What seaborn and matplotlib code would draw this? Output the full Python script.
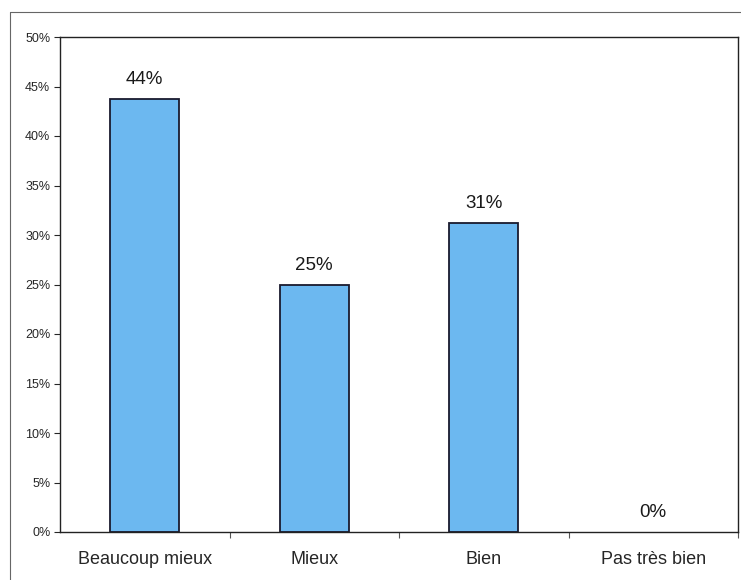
import matplotlib.pyplot as plt
import seaborn as sns
import pandas as pd
from matplotlib.lines import Line2D
from matplotlib.ticker import FuncFormatter, MultipleLocator

# données
categories = ['Beaucoup mieux', 'Mieux', 'Bien', 'Pas très bien']
values = [43.75, 25.0, 31.25, 0.0]
labels = ['44%', '25%', '31%', '0%']

df = pd.DataFrame({'categorie': categories, 'valeur': values})

sns.set_style('white')
plt.rcParams['font.family'] = ['Liberation Sans', 'DejaVu Sans']

fig = plt.figure(figsize=(7.41, 5.80), dpi=100)
ax = fig.add_axes([60 / 741, 1 - 532 / 580, 678 / 741, 495 / 580])

sns.barplot(data=df, x='categorie', y='valeur', color='#6CB8F0',
            edgecolor='#1a1a2e', linewidth=1.3, width=0.41, saturation=1, ax=ax)

# pas de contour pour une barre à 0
for patch, v in zip(ax.patches, values):
    if v == 0:
        patch.set_linewidth(0)

# étiquettes au-dessus des barres
for i, (v, lab) in enumerate(zip(values, labels)):
    ax.text(i, v + 1.1, lab, ha='center', va='bottom', fontsize=13.5, color='#1a1a1a')

ax.set_ylim(0, 50)
ax.set_xlim(-0.5, 3.5)
ax.yaxis.set_major_locator(MultipleLocator(5))
ax.yaxis.set_major_formatter(FuncFormatter(lambda v, p: f'{v:.0f}%'))
ax.set_xlabel('')
ax.set_ylabel('')

# graduations de l'axe X entre les catégories
ax.set_xticks([0, 1, 2, 3])
ax.set_xticklabels(categories, fontsize=13)
ax.set_xticks([0.5, 1.5, 2.5, 3.5], minor=True)
ax.tick_params(axis='x', which='major', bottom=False, length=0, pad=14)
ax.tick_params(axis='x', which='minor', bottom=True, length=4, direction='out',
               width=0.8, colors='#555555')
ax.tick_params(axis='y', left=True, length=4, direction='out', width=0.8,
               labelsize=9, pad=3)

for sp in ax.spines.values():
    sp.set_visible(True)
    sp.set_color('#222222')
    sp.set_linewidth(1.0)

# cadre extérieur
fig.add_artist(Line2D([10 / 741, 10 / 741], [1 - 12 / 580, 0], color='#666666', lw=0.8))
fig.add_artist(Line2D([10 / 741, 1], [1 - 12 / 580, 1 - 12 / 580], color='#666666', lw=0.8))

plt.savefig('out.png', dpi=100)
plt.close()
